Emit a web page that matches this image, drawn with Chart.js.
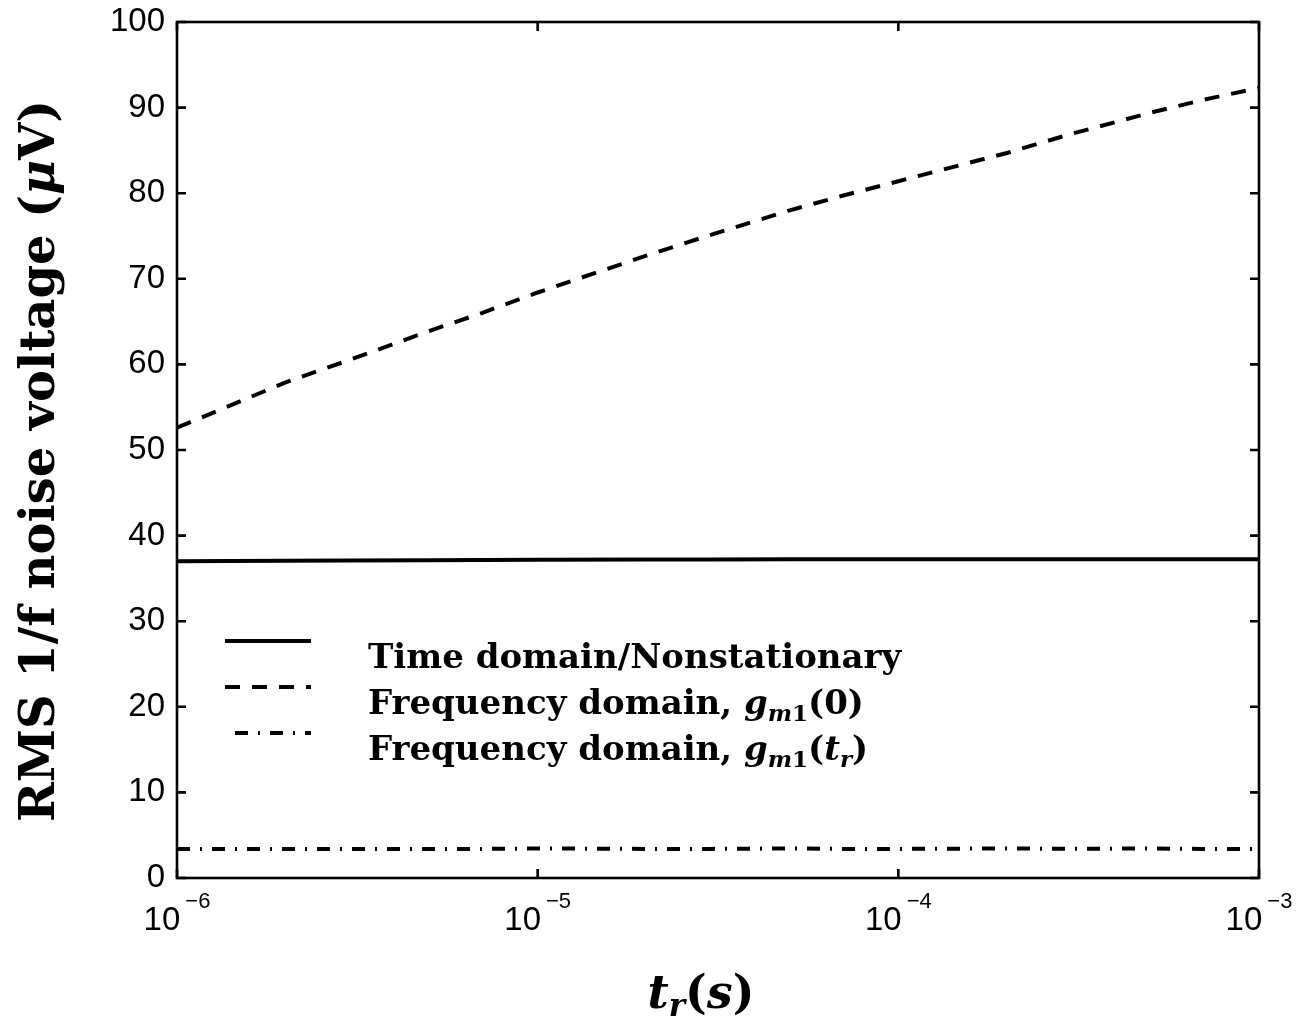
<!DOCTYPE html>
<html><head><meta charset="utf-8">
<script src="https://cdn.jsdelivr.net/npm/chart.js@4"></script>
<style>html,body{margin:0;padding:0;background:#fff;}</style>
</head><body>
<canvas id="c" width="1299" height="1023"></canvas>
<script>
// ---- data ----
const trValues = [1e-6, 2e-6, 3e-6, 5e-6, 7e-6, 1e-5, 2e-5, 3e-5, 5e-5, 7e-5, 1e-4, 2e-4, 3e-4, 5e-4, 7e-4, 1e-3];
const timeDomain = [37.0, 37.05, 37.08, 37.12, 37.15, 37.18, 37.2, 37.22, 37.23, 37.24, 37.25, 37.25, 37.25, 37.25, 37.25, 37.25];
const freqG0 = [52.6, 57.9, 60.5, 63.9, 66.0, 68.4, 72.7, 75.1, 78.0, 79.7, 81.4, 84.7, 86.9, 89.4, 90.9, 92.3];
const freqGtr = [3.4, 3.4, 3.4, 3.4, 3.4, 3.45, 3.4, 3.4, 3.45, 3.4, 3.4, 3.45, 3.4, 3.45, 3.4, 3.4];
const xTickValues = [1e-6, 1e-5, 1e-4, 1e-3];
const xTickBases = ['10', '10', '10', '10'];
const xTickExponents = ['\u22126', '\u22125', '\u22124', '\u22123'];
const yTickValues = [0, 10, 20, 30, 40, 50, 60, 70, 80, 90, 100];
const seriesNames = ['Time domain/Nonstationary', 'Frequency domain, g_m1(0)', 'Frequency domain, g_m1(t_r)'];

const SERIF = '"DejaVu Serif", serif';
const SANS = '"Liberation Sans", Arial, sans-serif';

function pts(ys) { return trValues.map((x, i) => ({ x: x, y: ys[i] })); }

const styles = [
  { borderDash: [], width: 4 },
  { borderDash: [15, 12], width: 4 },
  { borderDash: [13, 10, 2, 10], width: 4 }
];

function drawRich(ctx, segs, x, y, align) {
  let total = 0;
  segs.forEach(s => { ctx.font = s.font; s.w = ctx.measureText(s.t).width; total += s.w; });
  let cx = align === 'center' ? x - total / 2 : x;
  segs.forEach(s => { ctx.font = s.font; ctx.fillText(s.t, cx, y + (s.dy || 0)); cx += s.w; });
  return total;
}

const decorPlugin = {
  id: 'decor',
  afterDatasetsDraw(chart) {
    const ctx = chart.ctx;
    const a = chart.chartArea;
    const xs = chart.scales.x, ys = chart.scales.y;
    ctx.save();
    ctx.strokeStyle = '#000';
    ctx.fillStyle = '#000';
    ctx.lineWidth = 2.6;
    ctx.lineCap = 'butt';
    ctx.setLineDash([]);
    ctx.strokeRect(a.left, a.top, a.right - a.left, a.bottom - a.top);
    const tl = 9;
    ctx.beginPath();
    yTickValues.forEach(v => {
      const py = ys.getPixelForValue(v);
      ctx.moveTo(a.left, py); ctx.lineTo(a.left + tl, py);
      ctx.moveTo(a.right, py); ctx.lineTo(a.right - tl, py);
    });
    xTickValues.forEach(v => {
      const px = xs.getPixelForValue(v);
      ctx.moveTo(px, a.bottom); ctx.lineTo(px, a.bottom - tl);
      ctx.moveTo(px, a.top); ctx.lineTo(px, a.top + tl);
    });
    ctx.stroke();

    // x tick labels with superscript exponent
    ctx.textBaseline = 'alphabetic';
    ctx.textAlign = 'left';
    xTickValues.forEach((v, i) => {
      const px = xs.getPixelForValue(v);
      ctx.font = '33px ' + SANS;
      const wb = ctx.measureText(xTickBases[i]).width;
      ctx.font = '22px ' + SANS;
      const we = ctx.measureText(xTickExponents[i]).width;
      const start = px - (wb + 5 + we) / 2;
      ctx.font = '33px ' + SANS;
      ctx.fillText(xTickBases[i], start, 930);
      ctx.font = '22px ' + SANS;
      ctx.fillText(xTickExponents[i], start + wb + 5, 908);
    });

    // x axis title t_r(s)
    const B = 'bold 46px ' + SERIF, BI = 'italic bold 46px ' + SERIF, SUB = 'italic bold 31px ' + SERIF;
    drawRich(ctx, [
      { t: 't', font: BI }, { t: 'r', font: SUB, dy: 8 }, { t: '(', font: B }, { t: 's', font: BI }, { t: ')', font: B }
    ], 701, 1008, 'center');

    // y axis title
    ctx.save();
    ctx.translate(54, 461);
    ctx.rotate(-Math.PI / 2);
    const YB = 'bold 48px ' + SERIF, YBI = 'italic bold 48px ' + SERIF;
    drawRich(ctx, [
      { t: 'RMS 1/f noise voltage (', font: YB }, { t: '\u03bc', font: YBI }, { t: 'V)', font: YB }
    ], 0, 0, 'center');
    ctx.restore();

    // legend
    const LB = 'bold 34px ' + SERIF, LBI = 'italic bold 34px ' + SERIF, LS = 'italic bold 23px ' + SERIF, LSB = 'bold 23px ' + SERIF;
    const sampleY = [641, 687, 733];
    const textY = [668, 714, 760];
    const legendTexts = [
      [{ t: 'Time domain/Nonstationary', font: LB }],
      [{ t: 'Frequency domain, ', font: LB }, { t: 'g', font: LBI }, { t: 'm', font: LS, dy: 7 }, { t: '1', font: LSB, dy: 7 }, { t: '(0)', font: LB }],
      [{ t: 'Frequency domain, ', font: LB }, { t: 'g', font: LBI }, { t: 'm', font: LS, dy: 7 }, { t: '1', font: LSB, dy: 7 }, { t: '(', font: LB }, { t: 't', font: LBI }, { t: 'r', font: LS, dy: 7 }, { t: ')', font: LB }]
    ];
    chart.data.datasets.forEach((ds, i) => {
      ctx.beginPath();
      ctx.lineWidth = ds.borderWidth;
      ctx.setLineDash(ds.borderDash || []);
      ctx.lineDashOffset = i === 2 ? -10 : 0;
      ctx.moveTo(225, sampleY[i]);
      ctx.lineTo(311, sampleY[i]);
      ctx.stroke();
      ctx.setLineDash([]);
      ctx.lineDashOffset = 0;
      drawRich(ctx, legendTexts[i], 368, textY[i], 'left');
    });
    ctx.restore();
  }
};

new Chart(document.getElementById('c'), {
  type: 'line',
  data: {
    datasets: [0, 1, 2].map(i => ({
      label: seriesNames[i],
      data: pts([timeDomain, freqG0, freqGtr][i]),
      borderColor: '#000',
      backgroundColor: '#000',
      borderWidth: styles[i].width,
      borderDash: styles[i].borderDash,
      borderCapStyle: 'butt',
      pointRadius: 0,
      tension: 0,
      fill: false
    }))
  },
  options: {
    responsive: false,
    devicePixelRatio: 1,
    animation: false,
    layout: { padding: { top: 22, right: 40, left: 0, bottom: 0 } },
    plugins: { legend: { display: false }, tooltip: { enabled: false } },
    scales: {
      x: {
        type: 'logarithmic', min: 1e-6, max: 1e-3,
        afterBuildTicks: s => { s.ticks = xTickValues.map(v => ({ value: v })); },
        ticks: { display: false },
        grid: { display: false, drawTicks: false },
        border: { display: false },
        afterFit: s => { s.height = 145; s.paddingLeft = 0; s.paddingRight = 0; }
      },
      y: {
        type: 'linear', min: 0, max: 100,
        afterBuildTicks: s => { s.ticks = yTickValues.map(v => ({ value: v })); },
        ticks: { color: '#000', padding: 12, font: { family: SANS, size: 33 } },
        grid: { display: false, drawTicks: false },
        border: { display: false },
        afterFit: s => { s.width = 177; s.paddingTop = 0; s.paddingBottom = 0; }
      }
    }
  },
  plugins: [decorPlugin]
});
</script>
</body></html>
